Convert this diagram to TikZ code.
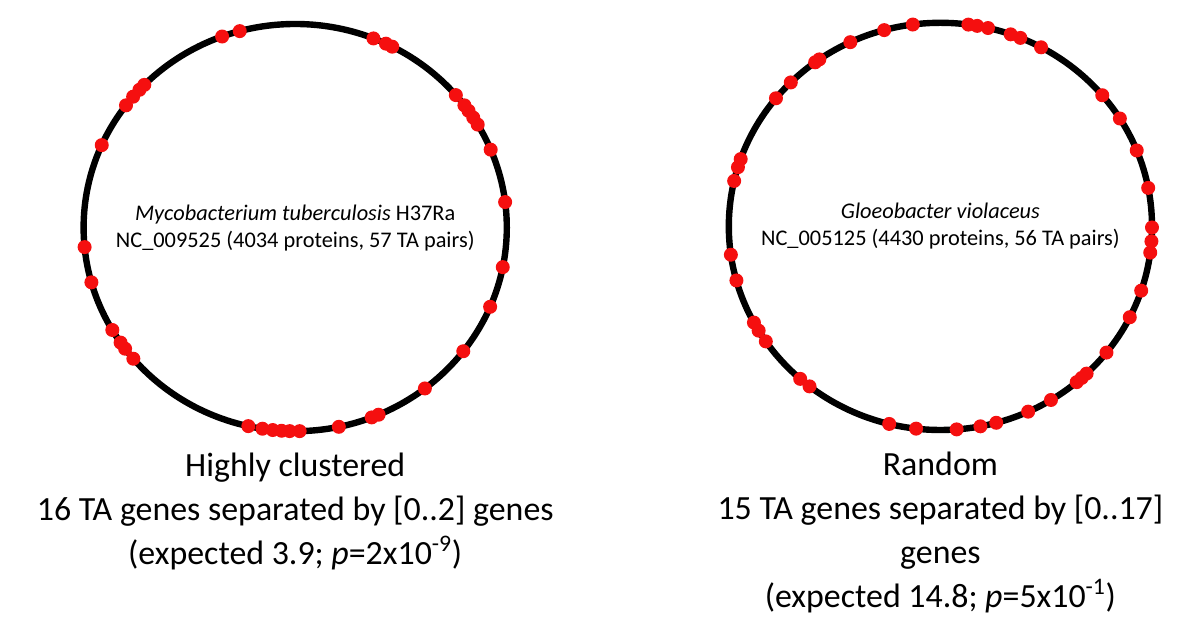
\documentclass[tikz,border=0pt]{standalone}
\usepackage{fontspec}
\setmainfont{Carlito}
\usepackage{tikz}
\usetikzlibrary{shapes.geometric, positioning}
\definecolor{tared}{RGB}{245,15,15}
\tikzset{
  ring/.style={ellipse, draw=black, line width=0.16cm,
    minimum width=10.58cm, minimum height=10.18cm, inner sep=0pt},
  tadot/.style={fill=tared},
  inlabel/.style={align=center, inner sep=0pt,
    font=\fontsize{15.9}{19.2}\selectfont},
  caption/.style={align=center, inner sep=0pt,
    font=\fontsize{24.1}{31.3}\selectfont}
}

\begin{document}
\begin{tikzpicture}[node distance=0.45cm]
  \useasboundingbox (0,0) rectangle (30,15.8);

  % Genome rings
  \node[ring] (mtb) at (7.38,10.11) {};
  \node[ring] (glv) at (23.51,10.14) {};

  % TA gene positions
  \foreach \a in {110.2,105.2,68.3,64.6,62.7,135.5,137.4,140,143.1,156.1,
    40.6,36.9,35,32.7,30.4,22.5,7.2,185.5,195.6,348.8,337.1,210.2,214.4,
    216.5,220.1,322.6,307.8,291.2,293.2,281.9,257.2,261.1,263.9,266.3,
    268.5,271.2}
    \fill[tadot] (mtb.center) ++(\a:5.29cm and 5.09cm) circle (0.175cm);
  \foreach \a in {105.4,97.5,82.4,80,77,70.6,67.8,61.6,115.2,124.9,126.3,
    135,141,40.1,32,21.9,10.9,359.7,355.8,352.6,341.6,333.5,321.7,313.7,
    311.9,310.1,301.5,294.5,285.3,280.9,274.4,263.4,256,160.7,163.1,167.1,
    188,195.4,208.2,210.8,214.4,228.5,231.8}
    \fill[tadot] (glv.center) ++(\a:5.29cm and 5.09cm) circle (0.175cm);

  % Labels
  \node[inlabel] (mtbname) at (mtb) {\textit{Mycobacterium tuberculosis} H37Ra\\
    NC\_009525 (4034 proteins, 57 TA pairs)};
  \node[inlabel] (glvname) at (glv) {\textit{Gloeobacter violaceus}\\
    NC\_005125 (4430 proteins, 56 TA pairs)};

  \node[caption, below=of mtb] (mtbnote) {Highly clustered\\
    16 TA genes separated by [0..2] genes\\
    (expected 3.9; \textit{p}=2x10\textsuperscript{-9})};
  \node[caption, below=of glv] (glvnote) {Random\\
    15 TA genes separated by [0..17]\\
    genes\\
    (expected 14.8; \textit{p}=5x10\textsuperscript{-1})};
\end{tikzpicture}
\end{document}
